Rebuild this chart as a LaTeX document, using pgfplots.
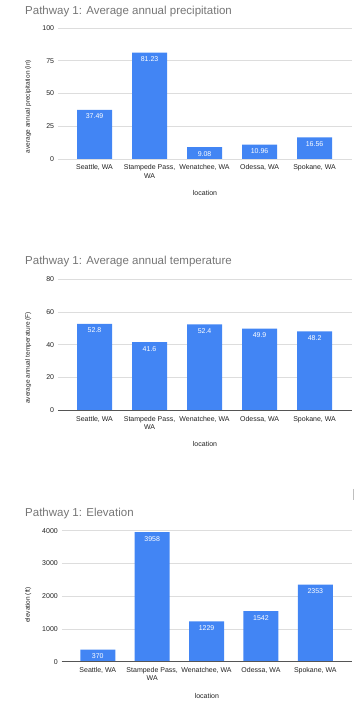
\documentclass[border=0pt]{standalone}
\usepackage{pgfplots}
\pgfplotsset{compat=1.18}
\usepackage{fontspec}
\setmainfont{Liberation Sans}
\definecolor{gbar}{HTML}{4285F4}
\definecolor{ggrid}{HTML}{DDDDDD}
\definecolor{gtitle}{HTML}{757575}
\definecolor{gtext}{HTML}{222222}
\definecolor{gaxis}{HTML}{555555}
\pgfplotsset{
  gchart/.style={
    scale only axis, height=131pt, width=294pt,
    ybar, bar width=35pt,
    xmin=-0.664, xmax=4.68, ymin=0,
    axis line style={draw=none},
    major tick length=0pt,
    xtick={0,1,2,3,4},
    xticklabels={{Seattle, WA},{Stampede Pass,\\WA},{Wenatchee, WA},{Odessa, WA},{Spokane, WA}},
    ymajorgrids, xmajorgrids=false,
    grid style={ggrid, line width=0.6pt},
    scaled y ticks=false,
    /pgf/number format/assume math mode=true,
    /pgf/number format/1000 sep={},
    tick label style={font=\fontsize{7}{8.3}\selectfont, text=gtext},
    xticklabel style={anchor=north, inner sep=0pt, yshift=-5.5pt, align=center},
    yticklabel style={anchor=east, inner sep=0pt, xshift=-3.7pt},
    nodes near coords,
    every node near coord/.append style={text=white, anchor=north, inner sep=0pt, yshift=-4pt, font=\fontsize{7}{8}\selectfont},
    xlabel={location},
    every axis x label/.style={at={(axis description cs:0.5,0)}, yshift=-34pt, anchor=center, font=\fontsize{7}{8}\selectfont, text=gtext},
    every axis y label/.style={at={(axis description cs:-0.101,0.40)}, rotate=90, anchor=center, font=\fontsize{6.5}{8}\selectfont, text=gtext},
  }
}
\begin{document}
\begin{tikzpicture}
\useasboundingbox (0,0) rectangle (354pt,703pt);
\node[anchor=base west, inner sep=0pt, text=gtitle, font=\fontsize{11.5}{14}\selectfont] at (25pt,688.7pt) {Pathway 1: Average annual precipitation};
\node[anchor=base west, inner sep=0pt, text=gtitle, font=\fontsize{11.5}{14}\selectfont] at (25pt,438pt) {Pathway 1: Average annual temperature};
\node[anchor=base west, inner sep=0pt, text=gtitle, font=\fontsize{11.5}{14}\selectfont] at (25pt,186.3pt) {Pathway 1: Elevation};
\draw[black!25, line width=0.6pt] (353pt,214pt) -- (353pt,203pt);

\begin{axis}[gchart, at={(58pt,544pt)}, anchor=south west, ymax=100, ytick={0,25,50,75,100},
  ylabel={average annual precipitation (in)}]
\addplot[fill=gbar, draw=none] coordinates {(0,37.49) (1,81.23) (2,9.08) (3,10.96) (4,16.56)};
\draw[gaxis, line width=0.7pt] (rel axis cs:0,0) -- (rel axis cs:1,0);
\end{axis}

\begin{axis}[gchart, at={(58pt,292.7pt)}, anchor=south west, ymax=80, ytick={0,20,40,60,80},
  ylabel={average annual temperature (F)}]
\addplot[fill=gbar, draw=none] coordinates {(0,52.8) (1,41.6) (2,52.4) (3,49.9) (4,48.2)};
\draw[gaxis, line width=0.7pt] (rel axis cs:0,0) -- (rel axis cs:1,0);
\end{axis}

\begin{axis}[gchart, width=290.3pt, xmax=4.675, at={(61.7pt,41.3pt)}, anchor=south west, ymax=4000, ytick={0,1000,2000,3000,4000},
  ylabel={elevation (ft)},
  every axis y label/.style={at={(axis description cs:-0.115,0.433)}, rotate=90, anchor=center, font=\fontsize{6.5}{8}\selectfont, text=gtext}]
\addplot[fill=gbar, draw=none] coordinates {(0,370) (1,3958) (2,1229) (3,1542) (4,2353)};
\draw[gaxis, line width=0.7pt] (rel axis cs:0,0) -- (rel axis cs:1,0);
\end{axis}
\end{tikzpicture}
\end{document}
